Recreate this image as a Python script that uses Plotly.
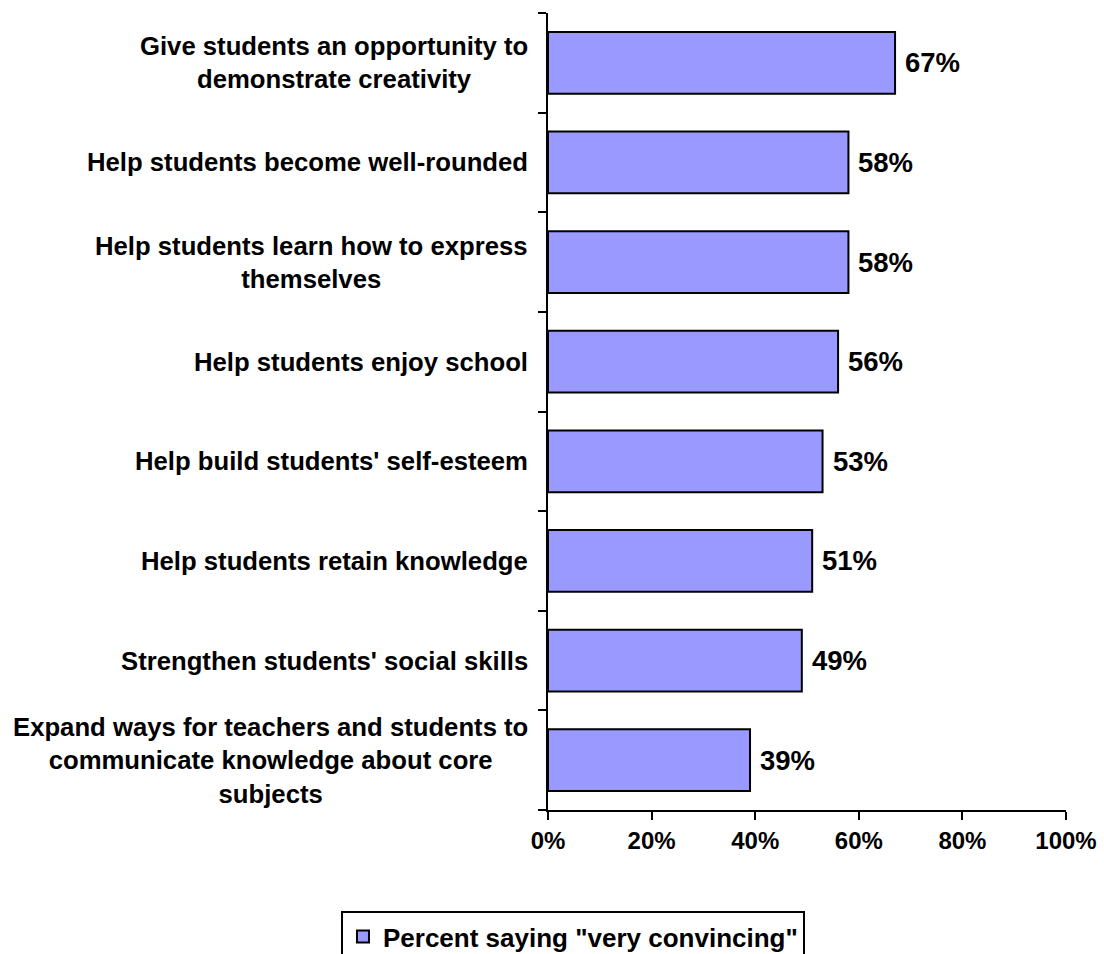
import plotly.graph_objects as go

categories = [
    "Give students an opportunity to<br>demonstrate creativity",
    "Help students become well-rounded",
    "Help students learn how to express<br>themselves",
    "Help students enjoy school",
    "Help build students' self-esteem",
    "Help students retain knowledge",
    "Strengthen students' social skills",
    "Expand ways for teachers and students to<br>communicate knowledge about core<br>subjects",
]
values = [67, 58, 58, 56, 53, 51, 49, 39]
series_name = 'Percent saying "very convincing"'
x_ticks = [0, 20, 40, 60, 80, 100]

FONT = "Arial, 'Liberation Sans', sans-serif"
BAR_COLOR = "#9999FF"

fig = go.Figure()
fig.add_trace(go.Bar(
    x=values,
    y=list(range(len(categories))),
    orientation="h",
    width=0.62,
    marker=dict(color=BAR_COLOR, line=dict(color="black", width=2)),
    name=f"<b>{series_name}</b>",
    showlegend=True,
))

annotations = []
# category labels: centred lines, right edge just left of the axis ticks
for i, cat in enumerate(categories):
    annotations.append(dict(
        x=0, y=i, xref="x", yref="y", text=f"<b>{cat}</b>", showarrow=False,
        xanchor="right", yanchor="middle", align="center", xshift=-18,
        font=dict(family=FONT, size=25.7, color="black"),
    ))
# value labels beside each bar
for i, v in enumerate(values):
    annotations.append(dict(
        x=v, y=i, xref="x", yref="y", text=f"<b>{v}%</b>", showarrow=False,
        xanchor="left", yanchor="middle", xshift=8,
        font=dict(family=FONT, size=27.5, color="black"),
    ))

fig.update_layout(
    width=1104, height=954,
    margin=dict(l=548, r=38, t=13, b=144),
    paper_bgcolor="white", plot_bgcolor="white",
    font=dict(family=FONT, color="black"),
    annotations=annotations,
    xaxis=dict(
        range=[0, 100], tickvals=x_ticks, ticktext=[f"<b>{t}%</b>" for t in x_ticks],
        showgrid=False, zeroline=False, showline=True, linecolor="black", linewidth=2,
        ticks="outside", ticklen=8, tickwidth=2, tickcolor="black",
        tickfont=dict(family=FONT, size=24, color="black"),
        automargin=False,
    ),
    yaxis=dict(
        range=[len(categories) - 0.5, -0.5],
        tickvals=[i - 0.5 for i in range(len(categories) + 1)],
        ticktext=[""] * (len(categories) + 1),
        showgrid=False, zeroline=False, showline=True, linecolor="black", linewidth=2,
        ticks="outside", ticklen=8, tickwidth=2, tickcolor="black",
        automargin=False,
    ),
    legend=dict(
        orientation="h", xref="container", yref="container",
        x=0.519, y=0.045, xanchor="center", yanchor="top",
        bordercolor="black", borderwidth=2, bgcolor="white",
        font=dict(family=FONT, size=26, color="black"),
        itemwidth=30,
    ),
)

fig.write_html("out.html")
